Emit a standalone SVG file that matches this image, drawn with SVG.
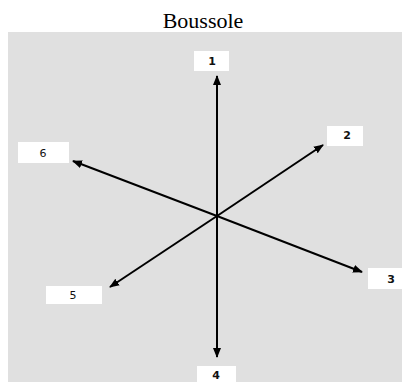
<svg xmlns="http://www.w3.org/2000/svg" width="402" height="382" viewBox="0 0 402 382">
<style>
.bg{fill:#e0e0e0}
.box{fill:#ffffff}
.lbl{font-family:"DejaVu Sans","Liberation Sans",sans-serif;font-size:11px;text-anchor:middle;fill:#111}
.b{font-weight:bold}
.title{font-family:"Liberation Serif",serif;font-size:22px;text-anchor:middle;fill:#000}
.edge{stroke:#000;stroke-width:2;fill:none;marker-end:url(#ah)}
</style>
<defs>
<marker id="ah" viewBox="0 0 10 10" refX="9" refY="5" markerWidth="5" markerHeight="5" orient="auto" markerUnits="strokeWidth">
<path d="M0,1 L10,5 L0,9 Z" fill="#000"/>
</marker>
</defs>
<rect x="0" y="0" width="402" height="382" fill="#ffffff"/>
<text class="title" x="203" y="28">Boussole</text>
<rect class="bg" x="8" y="32" width="394" height="350"/>
<g id="connectors">
<line class="edge" x1="217" y1="216" x2="217" y2="76"/>
<line class="edge" x1="217" y1="216" x2="217" y2="357"/>
<line class="edge" x1="217" y1="216" x2="323" y2="145"/>
<line class="edge" x1="217" y1="216" x2="73" y2="161"/>
<line class="edge" x1="217" y1="216" x2="110" y2="287"/>
<line class="edge" x1="217" y1="216" x2="362" y2="272"/>
</g>
<g id="n1"><rect class="box" x="194" y="51" width="35" height="20"/><text class="lbl b" x="212" y="65">1</text></g>
<g id="n2"><rect class="box" x="327" y="126" width="36" height="20"/><text class="lbl b" x="347" y="139">2</text></g>
<g id="n3"><rect class="box" x="368" y="268" width="34" height="21"/><text class="lbl b" x="391" y="283">3</text></g>
<g id="n4"><rect class="box" x="197" y="366" width="39" height="16"/><text class="lbl b" x="216" y="379">4</text></g>
<g id="n5"><rect class="box" x="46" y="286" width="56" height="18"/><text class="lbl" x="73" y="299">5</text></g>
<g id="n6"><rect class="box" x="18" y="142" width="51" height="21"/><text class="lbl" x="43" y="157">6</text></g>
</svg>
